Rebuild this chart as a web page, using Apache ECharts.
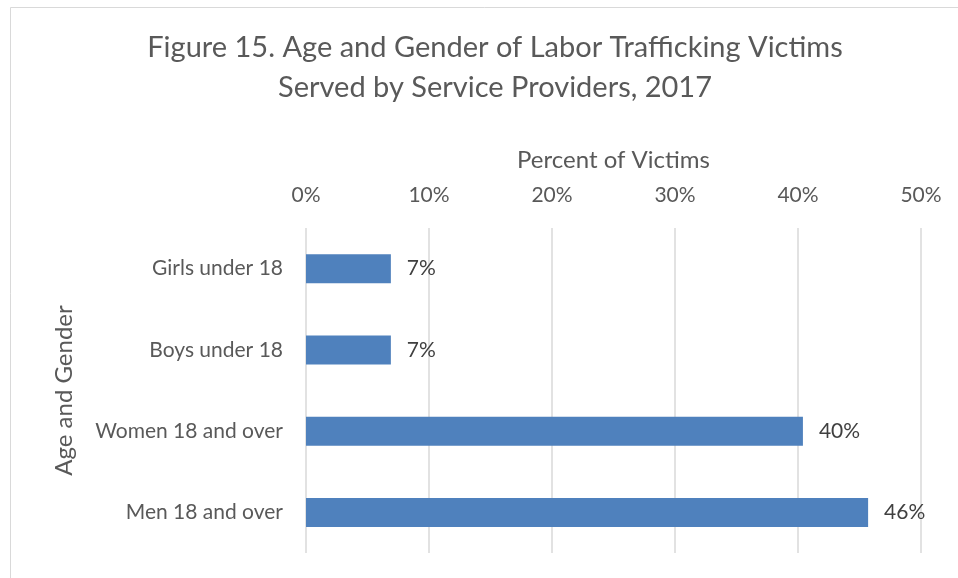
<!DOCTYPE html>
<html>
<head>
<meta charset="utf-8">
<script src="https://cdn.jsdelivr.net/npm/echarts@6/dist/echarts.min.js"></script>
<style>
    html, body { margin: 0; padding: 0; background: #fff; }
    #chart { width: 958px; height: 578px; }
</style>
</head>
<body>
<div id="chart"></div>
<script>
    // categories, top to bottom
    var categories = ['Girls under 18', 'Boys under 18', 'Women 18 and over', 'Men 18 and over'];
    // percent of victims
    var percents = [6.9, 6.9, 40.4, 45.7];
    var tickValues = [0, 10, 20, 30, 40, 50];

    var font = 'Lato, "Open Sans", sans-serif';
    var myChart = echarts.init(document.getElementById('chart'));

    var options = {
        backgroundColor: '#fff',
        animation: false,
        textStyle: { fontFamily: font },
        graphic: [{
            type: 'rect',
            shape: { x: 10.5, y: 7.5, width: 1000, height: 1000 },
            style: { fill: 'none', stroke: '#d9d9d9', lineWidth: 1 },
            silent: true
        }],
        title: {
            text: 'Figure 15. Age and Gender of Labor Trafficking Victims\nServed by Service Providers, 2017',
            left: 490,
            top: 23,
            textAlign: 'center',
            textStyle: {
                fontFamily: font,
                fontSize: 29,
                fontWeight: 'normal',
                color: '#595959',
                lineHeight: 40
            }
        },
        grid: {
            left: 306,
            right: 37,
            top: 228,
            bottom: 25,
            containLabel: false
        },
        xAxis: {
            type: 'value',
            position: 'top',
            min: tickValues[0],
            max: tickValues[tickValues.length - 1],
            interval: 10,
            name: 'Percent of Victims',
            nameLocation: 'middle',
            nameGap: 56,
            nameTextStyle: { fontFamily: font, fontSize: 24, color: '#595959' },
            axisLine: { show: false },
            axisTick: { show: false },
            axisLabel: {
                formatter: '{value}%',
                margin: 22,
                fontFamily: font,
                fontSize: 21,
                color: '#595959'
            },
            splitLine: { lineStyle: { color: '#d9d9d9', width: 1.5 } }
        },
        yAxis: {
            type: 'category',
            inverse: true,
            data: categories,
            name: 'Age and Gender',
            nameLocation: 'middle',
            nameRotate: 90,
            nameGap: 230,
            nameTextStyle: { fontFamily: font, fontSize: 24, color: '#595959' },
            axisLine: { show: false },
            axisTick: { show: false },
            axisLabel: {
                margin: 23,
                fontFamily: font,
                fontSize: 21,
                color: '#595959'
            },
            splitLine: { show: false }
        },
        series: [{
            type: 'bar',
            data: percents,
            barWidth: 29,
            itemStyle: { color: '#4f81bd' },
            label: {
                show: true,
                position: 'right',
                distance: 16,
                fontFamily: font,
                fontSize: 21,
                color: '#404040',
                formatter: function (p) { return Math.round(p.value) + '%'; }
            }
        }]
    };

    myChart.setOption(options);
</script>
</body>
</html>
